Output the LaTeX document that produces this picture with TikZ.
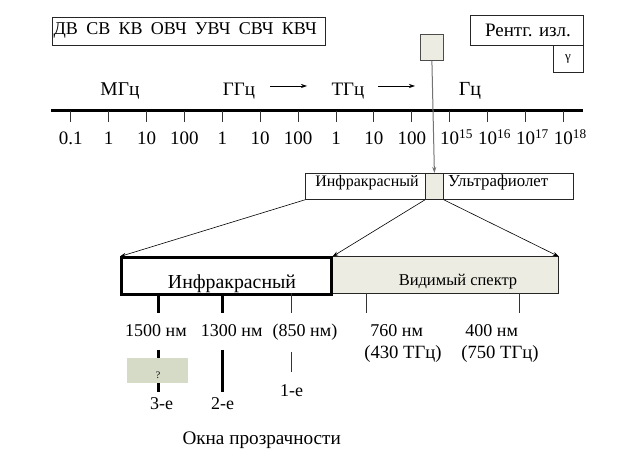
\documentclass[tikz,border=0pt]{standalone}
\usepackage{fontspec}
\setmainfont{Liberation Serif}
\usetikzlibrary{arrows.meta}
\definecolor{pale}{RGB}{236,236,226}
\definecolor{qbox}{RGB}{214,219,199}
\newcommand{\fs}[1]{\fontsize{#1}{#1}\selectfont}
\begin{document}
\begin{tikzpicture}[x=1pt,y=-1pt,
  font=\fs{18},
  box/.style={draw=black!85, line width=0.8pt, inner sep=0pt, anchor=north west},
  lbl/.style={inner sep=0pt, anchor=base},
  arr/.style={-{Stealth[length=6pt,width=4pt]}, line width=0.6pt},
  axtick/.style={line width=1pt, black!80},
  thicktick/.style={line width=3pt},
]
\useasboundingbox (0,0) rectangle (638,462);
% top boxes
\node[box, minimum width=273pt, minimum height=28pt] (bands) at (52,17) {};
\node[lbl, anchor=base west] (bandtxt) at (53.5,35) {ДВ\hspace{8.3pt}СВ\hspace{8.3pt}КВ\hspace{8.3pt}ОВЧ\hspace{8.3pt}УВЧ\hspace{8.3pt}СВЧ\hspace{8.3pt}КВЧ};
\node[box, minimum width=113pt, minimum height=30pt] (xray) at (470,15) {};
\node[lbl, font=\fs{19}] (xraytxt) at (528,36.5) {Рентг. изл.};
\node[box, minimum width=30pt, minimum height=27pt] (gam) at (553,45) {};
\node[lbl, font=\fs{13}] (gamtxt) at (568,61) {γ};
\node[box, fill=pale, draw=black!70, minimum width=23pt, minimum height=26pt] (sq) at (420,34) {};
% unit labels
\node[lbl, font=\fs{19.5}] (mhz) at (120,96) {МГц};
\node[lbl, font=\fs{19}] (ghz) at (239,96) {ГГц};
\node[lbl, font=\fs{19}] (thz) at (348,96) {ТГц};
\node[lbl, font=\fs{20}] (hz) at (470,96) {Гц};
\coordinate (a1s) at (270,86); \coordinate (a1e) at (307,86);
\coordinate (a2s) at (378,86); \coordinate (a2e) at (415,86);
\draw[arr] (a1s) -- (a1e);
\draw[arr] (a2s) -- (a2e);
% axis
\coordinate (axL) at (51,110.5); \coordinate (axR) at (583,110.5);
\draw[line width=3pt] (axL) -- (axR);
\foreach \t [count=\i from 0] in {0.1,1,10,100,1,10,100,1,10,100,10\rlap{\textsuperscript{15}},10\rlap{\textsuperscript{16}},10\rlap{\textsuperscript{17}},10\rlap{\textsuperscript{18}}}{
  \pgfmathsetmacro{\xx}{70.7+37.9*\i}
  \draw[axtick] (\xx,111) -- (\xx,122);
  \node[lbl, font=\fs{19}] (tk\i) at (\xx,144.5) {\t};
}
% middle bar
\node[box, minimum width=120pt, minimum height=26pt] (irs) at (305,173) {};
\node[lbl, font=\fs{16}] (irstxt) at (367,187) {Инфракрасный};
\node[box, fill=pale, minimum width=18pt, minimum height=26pt] (mid) at (425,173) {};
\node[box, minimum width=130pt, minimum height=26pt] (uv) at (443,173) {};
\node[lbl, anchor=base west, font=\fs{16.8}] (uvtxt) at (448,187) {Ультрафиолет};
\draw[arr, draw=black!55, line width=1pt] (sq.south) -- (mid.north);
% big boxes
\node[box, fill=pale, minimum width=228pt, minimum height=37pt] (vis) at (330,256.5) {};
\node[lbl, font=\fs{16.5}] (vistxt) at (458,286) {Видимый спектр};
\node[box, draw=black, line width=2.5pt, minimum width=210pt, minimum height=37pt] (ir) at (120,256.5) {};
\node[lbl, font=\fs{19.8}] (irtxt) at (232,289) {Инфракрасный};
\draw[arr] (irs.south west) -- (ir.north west);
\draw[arr] (mid.south west) -- (ir.north east);
\draw[arr] (mid.south east) -- (vis.north east);
% ticks below
\draw[thicktick] (158,293) -- (158,313);
\draw[thicktick] (222.7,293) -- (222.7,313);
\draw[axtick] (291,293) -- (291,313);
\draw[axtick] (366.7,293) -- (366.7,313);
\draw[axtick] (519,293) -- (519,313);
\node[lbl] (n1500) at (156,337) {1500 нм};
\node[lbl] (n1300) at (231.7,337) {1300 нм};
\node[lbl] (n850) at (305,337) {(850 нм)};
\node[lbl] (n760) at (396.7,337) {760 нм};
\node[lbl] (n400) at (491.7,337) {400 нм};
\node[lbl, font=\fs{18.7}] (f430) at (403,359) {(430 ТГц)};
\node[lbl, font=\fs{18.7}] (f750) at (500,359) {(750 ТГц)};
% windows
\draw[thicktick] (158,350) -- (158,392);
\node[box, draw=none, fill=qbox, minimum width=61pt, minimum height=25pt] (qb) at (127,358) {};
\node[lbl, font=\fs{10}] (qm) at (158,378.5) {?};
\draw[thicktick] (222.7,350) -- (222.7,392);
\draw[axtick] (291,352) -- (291,372);
\node[lbl] (w3) at (161.7,409.5) {3-е};
\node[lbl] (w2) at (222.7,409.5) {2-е};
\node[lbl] (w1) at (291.7,397) {1-е};
\node[lbl, font=\fs{19.2}] (okna) at (261.7,445) {Окна прозрачности};
\end{tikzpicture}
\end{document}
